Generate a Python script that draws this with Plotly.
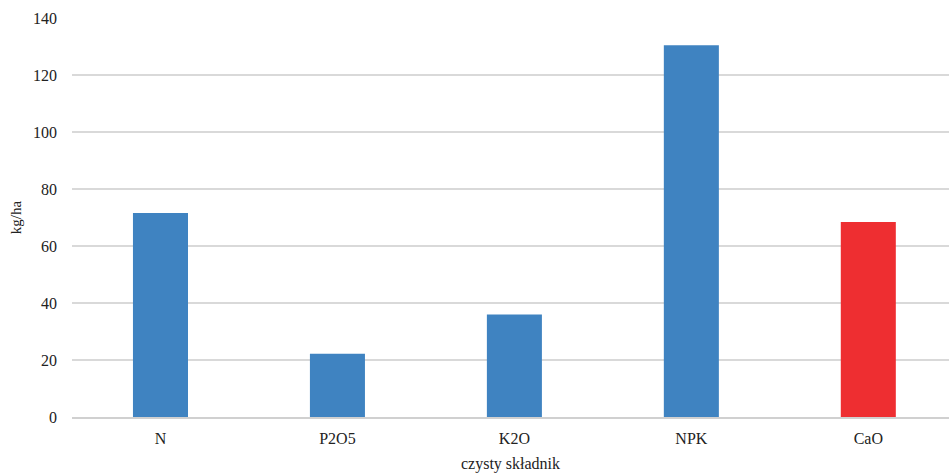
import plotly.graph_objects as go

# Nutrient application rates (kg/ha, pure component)
categories = ["N", "P2O5", "K2O", "NPK", "CaO"]
values = [71.6, 22.2, 36.0, 130.4, 68.4]
bar_colors = ["#3F83C1", "#3F83C1", "#3F83C1", "#3F83C1", "#EE2E31"]
y_ticks = [0, 20, 40, 60, 80, 100, 120, 140]

font_family = "Liberation Serif, Times New Roman, serif"

fig = go.Figure(
    go.Bar(
        x=categories,
        y=values,
        marker=dict(color=bar_colors, line=dict(width=0)),
        width=0.311,
    )
)

fig.update_layout(
    width=949,
    height=474,
    margin=dict(l=72, r=0, t=18, b=57),
    plot_bgcolor="white",
    paper_bgcolor="white",
    font=dict(family=font_family, size=16, color="#222222"),
    showlegend=False,
)

fig.update_xaxes(
    range=[-0.5, 4.456],
    showgrid=False,
    showline=True,
    linecolor="#d0d0d0",
    linewidth=2,
    ticks="",
    ticklabelstandoff=6,
    tickfont=dict(size=16),
    title=dict(text="czysty składnik", font=dict(size=16), standoff=12),
)

fig.update_yaxes(
    range=[0, 140],
    tickvals=y_ticks,
    showgrid=True,
    gridcolor="#d9d9d9",
    gridwidth=1.5,
    zeroline=False,
    showline=False,
    ticks="",
    ticklabelstandoff=14,
    tickfont=dict(size=16),
    title=dict(text="kg/ha", font=dict(size=15), standoff=7),
)

fig.write_html("out.html")
